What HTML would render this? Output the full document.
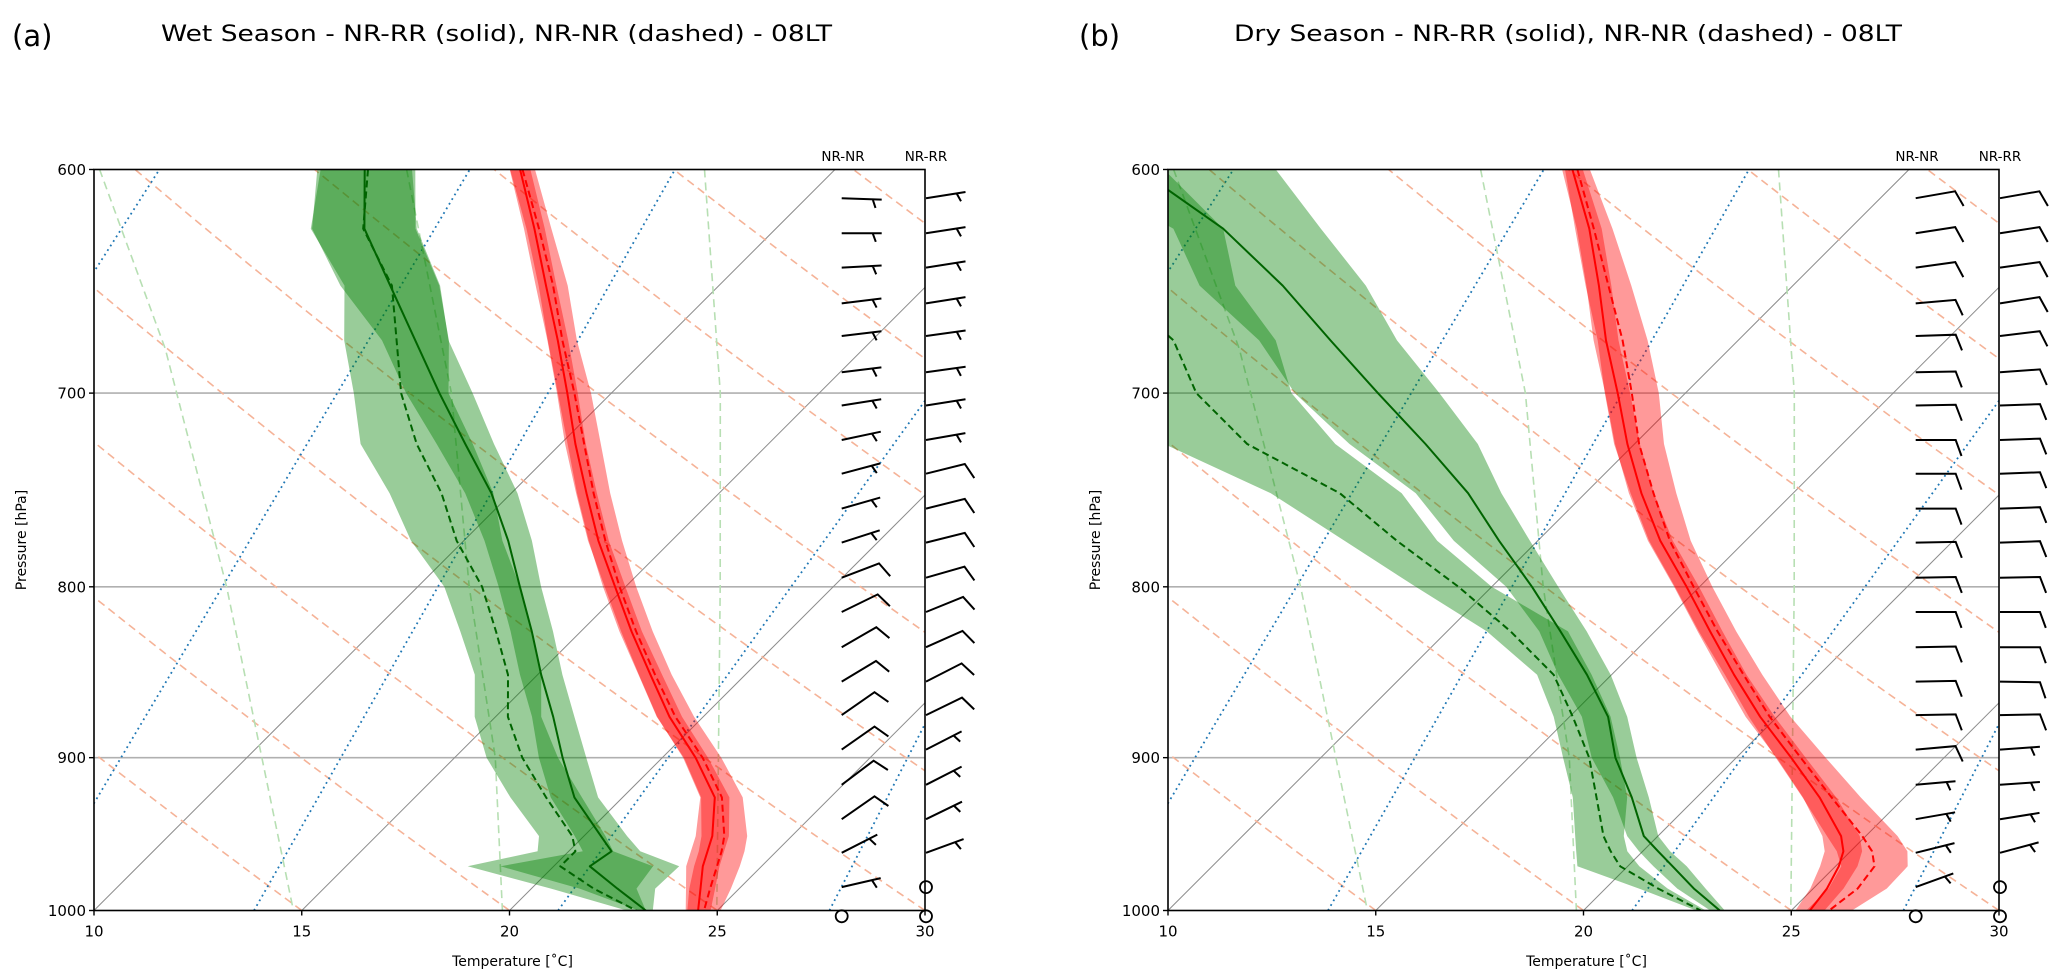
<!DOCTYPE html>
<html><head><meta charset="utf-8"><title>Skew-T Wet/Dry season</title>
<style>
html,body{margin:0;padding:0;background:#fff;}
svg{display:block;font-family:"DejaVu Sans","Liberation Sans",sans-serif;}
</style></head>
<body>
<svg id="root" width="2067" height="980" viewBox="0 0 2067 980" xmlns="http://www.w3.org/2000/svg">
<defs>
<clipPath id="clipA"><rect x="94" y="169.5" width="831" height="741"/></clipPath>
<clipPath id="clipB"><rect x="1168" y="169.5" width="831" height="741"/></clipPath>
</defs>
<text x="12" y="46" font-size="29">(a)</text>
<text x="161" y="41" font-size="22" textLength="671" lengthAdjust="spacingAndGlyphs">Wet Season - NR-RR (solid), NR-NR (dashed) - 08LT</text>
<text x="1079" y="46" font-size="29">(b)</text>
<text x="1234" y="41" font-size="22" textLength="668" lengthAdjust="spacingAndGlyphs">Dry Season - NR-RR (solid), NR-NR (dashed) - 08LT</text>
<g id="panelA"></g>
<g id="panelB"></g>
</svg>
<script>
// ---- data ----
const levels = [600,625,650,675,700,725,750,775,800,825,850,875,900,925,950,960,970,985,1000];
// Panel (a) wet season
const aRedS = [2.42,4.19,5.84,7.44,8.94,10.36,11.81,13.24,14.75,16.22,17.72,19.19,20.80,22.22,23.09,23.34,23.59,24.07,24.54];
const aRedD = [2.48,4.30,6.01,7.55,9.11,10.57,11.98,13.41,14.86,16.33,17.83,19.33,20.97,22.39,23.38,23.68,23.93,24.30,24.68];
const aRedSsp = [0.25,0.25,0.25,0.25,0.25,0.25,0.25,0.25,0.25,0.25,0.28,0.3,0.3,0.35,0.4,0.4,0.4,0.35,0.3];
const aRedDsp = [0.3,0.3,0.35,0.35,0.4,0.4,0.4,0.4,0.4,0.4,0.4,0.45,0.45,0.5,0.55,0.55,0.55,0.5,0.4];
const aGrnS = [-1.32,0.10,2.09,4.01,5.86,7.71,9.52,11.07,12.46,13.82,15.09,16.39,17.60,18.84,20.41,21.03,20.87,22.07,23.28];
const aGrnD = [-1.24,0.07,2.13,3.56,4.94,6.54,8.32,9.83,11.55,12.96,14.29,15.30,16.63,18.16,19.72,20.16,20.16,21.50,23.05];
const aGrnSsp = [1.14,1.26,1.2,0.8,0.8,0.69,0.63,0.57,0.51,0.51,0.51,0.51,0.57,0.57,0.63,0.69,2.15,0.91,0.17];
const aGrnDsp = [1.14,1.26,1.14,1.26,1.14,1.35,1.25,1.1,0.91,0.86,0.8,0.8,0.86,0.86,0.8,0.91,2.23,1.03,0.23];
// Panel (b) dry season
const bRedS = [1.90,3.73,5.33,6.82,8.37,9.83,11.35,12.95,14.69,16.33,17.95,19.59,21.32,22.96,24.41,24.83,25.08,25.33,25.45];
const bRedD = [2.02,3.84,5.56,7.22,8.71,10.11,11.64,13.18,14.86,16.51,18.18,19.82,21.55,23.25,24.92,25.52,25.94,26.07,25.91];
const bRedSsp = [0.25,0.3,0.3,0.3,0.3,0.3,0.3,0.3,0.3,0.3,0.3,0.35,0.35,0.4,0.45,0.45,0.45,0.4,0.35];
const bRedDsp = [0.3,0.45,0.55,0.6,0.65,0.6,0.55,0.5,0.45,0.45,0.45,0.5,0.6,0.7,0.85,0.85,0.8,0.7,0.55];
const bGrnS = [-8.53,-5.08,-2.28,0.19,2.60,4.97,7.18,9.07,10.97,12.73,14.41,15.93,17.09,18.44,19.66,20.37,21.08,22.13,23.28];
const bGrnD = [-10.79,-8.56,-6.39,-3.59,-1.77,0.68,4.09,6.61,9.20,11.53,13.61,15.08,16.46,17.59,18.69,19.23,19.82,21.27,22.82];
const bGrnSlo = [-10.22,-6.28,-4.28,-1.53,0.60,3.14,5.92,7.98,10.35,12.22,13.72,15.30,16.52,17.99,19.26,19.91,20.62,21.73,23.05];
const bGrnShi = [-5.24,-2.73,-0.28,1.79,4.08,6.23,7.98,9.81,11.60,13.36,14.98,16.39,17.60,18.85,20.01,20.66,21.42,22.41,23.40];
const bGrnDlo = [-12.50,-10.51,-8.57,-6.68,-3.69,-1.32,2.43,5.35,8.17,10.96,13.21,14.62,15.83,17.02,18.01,18.40,18.79,20.81,22.71];
const bGrnDhi = [-7.93,-5.08,-3.42,-1.13,0.52,2.80,5.58,7.58,10.00,12.91,14.52,15.99,17.20,18.33,19.18,19.63,20.28,21.50,22.94];
// wind barbs (direction wind comes from, deg; speed kt; 0 = calm)
const barbP = [612,627,642,658,673,690,706,723,740,758,776,795,814,834,854,874,895,917,939,961,984];
const aNNdir = [92,90,87,83,83,83,81,78,75,74,72,69,64,60,59,55,55,53,55,63,77];
const aNNspd = [5,5,5,5,5,5,5,5,5,5,5,10,10,10,10,10,10,10,10,5,5];
const aNRdir = [81,81,81,81,82,82,81,80,76,76,76,74,68,66,63,64,63,63,64,70,0];
const aNRspd = [5,5,5,5,5,5,5,5,10,10,10,10,10,10,10,10,5,5,5,5,0];
const bNNdir = [80,81,82,85,88,89,89,90,90,90,89,89,90,89,89,89,85,85,80,76,70];
const bNNspd = [10,10,10,10,10,10,10,10,10,10,10,10,10,10,10,10,10,5,5,5,5];
const bNRdir = [80,81,82,81,83,86,88,88,88,88,88,89,90,90,91,89,86,86,81,75,0];
const bNRspd = [10,10,10,10,10,10,10,10,10,10,10,10,10,10,10,10,5,5,5,5,0];
const surfCalmP = 1004;
// background reference lines
const isoT = [10,15,20,25,30,35,40,45,50];
const dryT0 = [-40,-35,-30,-25,-20,-15,-10,-5,0,5,10,15,20,25,30,35,40,45,50,55,60,65,70,75,80,85,90,95,100];
const moistT1000 = [0.17,8.47,13.85,21.17,27.7];
const moistT600 = [-6.26,1.21,6.15,16.17,19.0];
const mixP1 = [600,679,800,1000], mixT1 = [-7.7,-1.8,5.4,14.8];
const mixP2 = [600,700,800,900,1000], mixT2 = [-0.31,6.15,11.24,15.98,19.83];
const mixP3 = [600,700,800,900,1000], mixT3 = [6.86,12.62,17.28,21.35,24.99];
const pTicks = [600,700,800,900,1000];
const tTicks = [10,15,20,25,30];

// ---- axes ----
const W = 831, TOP = 169.5, BOT = 910.5, K = 41.55, LN = 1450.6;
const NS = 'http://www.w3.org/2000/svg';
function yP(p){ return BOT - LN*Math.log(1000/p); }
function xT(L0,T,p){ return L0 + (T-10)*K + (BOT - yP(p)); }
function mk(parent, tag, attrs){
  const el = document.createElementNS(NS, tag);
  for (const k in attrs) el.setAttribute(k, attrs[k]);
  parent.appendChild(el);
  return el;
}
function pathFrom(L0, ps, ts){
  let d='';
  for(let i=0;i<ps.length;i++){ d += (i?'L':'M') + xT(L0,ts[i],ps[i]).toFixed(1)+' '+yP(ps[i]).toFixed(1)+' '; }
  return d;
}
function bandPath(L0, lo, hi){
  let d='';
  for(let i=0;i<levels.length;i++) d += (i?'L':'M') + xT(L0,lo[i],levels[i]).toFixed(1)+' '+yP(levels[i]).toFixed(1)+' ';
  for(let i=levels.length-1;i>=0;i--) d += 'L' + xT(L0,hi[i],levels[i]).toFixed(1)+' '+yP(levels[i]).toFixed(1)+' ';
  return d+'Z';
}
function minus(c,s){ return c.map((v,i)=>v-s[i]); }
function plus(c,s){ return c.map((v,i)=>v+s[i]); }

function drawBarb(g, bx, p, dir, spd){
  const y = yP(p);
  if(spd===0){
    const c = mk(g,'circle',{cx:bx,cy:y,r:6,fill:'none',stroke:'#000','stroke-width':1.8});
    
    
    return;
  }
  const th = (90-dir)*Math.PI/180;
  const ux = Math.cos(th), uy = -Math.sin(th);
  const ex = bx+40*ux, ey = y+40*uy;
  const ta = Math.atan2(uy,ux) + 70*Math.PI/180;
  let d = 'M'+bx+' '+y.toFixed(1)+' L'+ex.toFixed(1)+' '+ey.toFixed(1);
  if(spd>=10){
    d += ' L'+(ex+17*Math.cos(ta)).toFixed(1)+' '+(ey+17*Math.sin(ta)).toFixed(1);
  } else {
    const sx = bx+31*ux, sy = y+31*uy;
    d += ' M'+sx.toFixed(1)+' '+sy.toFixed(1)+' L'+(sx+9*Math.cos(ta)).toFixed(1)+' '+(sy+9*Math.sin(ta)).toFixed(1);
  }
  const b = mk(g,'path',{d:d,fill:'none',stroke:'#000','stroke-width':2,'stroke-linejoin':'miter'});
  
  
}

function drawPanel(gid, L0, clipId, D){
  const root = document.getElementById(gid);
  const clip = mk(root,'g',{'clip-path':'url(#'+clipId+')'});
  
  
  for(const p of [700,800,900]){
    const l = mk(clip,'line',{x1:L0,x2:L0+W,y1:yP(p),y2:yP(p),stroke:'#b0b0b0','stroke-width':1.6});
    
    
  }
  for(const t of isoT){
    const l = mk(clip,'path',{d:pathFrom(L0,[1000,600],[t,t]),stroke:'#8c8c8c','stroke-width':1,fill:'none'});
    
    
  }
  for(const t0 of dryT0){
    const ps=[], ts=[];
    for(let p=1000;p>=600;p-=20){ ps.push(p); ts.push((t0+273.15)*Math.pow(p/1000,0.2857)-273.15); }
    const l = mk(clip,'path',{d:pathFrom(L0,ps,ts),stroke:'#f5b398','stroke-width':1.6,fill:'none','stroke-dasharray':'8,5'});
    
    
  }
  for(let i=0;i<moistT1000.length;i++){
    const l = mk(clip,'path',{d:pathFrom(L0,[1000,600],[moistT1000[i],moistT600[i]]),stroke:'#1f77b4','stroke-width':1.8,fill:'none','stroke-dasharray':'1.8,3.6'});
    
    
  }
  for(const [ps,ts] of [[mixP1,mixT1],[mixP2,mixT2],[mixP3,mixT3]]){
    const l = mk(clip,'path',{d:pathFrom(L0,ps,ts),stroke:'#b7dfb3','stroke-width':1.6,fill:'none','stroke-dasharray':'8,5'});
    
    
  }
  const bands = [
    ['green-band-nrrr', D.gSlo, D.gShi, 'rgba(0,128,0,0.4)'],
    ['green-band-nrnr', D.gDlo, D.gDhi, 'rgba(0,128,0,0.4)'],
    ['red-band-nrrr', D.rSlo, D.rShi, 'rgba(255,0,0,0.4)'],
    ['red-band-nrnr', D.rDlo, D.rDhi, 'rgba(255,0,0,0.4)']
  ];
  for(const [nm,lo,hi,col] of bands){
    const b = mk(clip,'path',{d:bandPath(L0,lo,hi),fill:col,stroke:'none'});
    
    
  }
  const lines = [
    ['dewpoint-nrrr-solid', D.gS, '#006400', null],
    ['dewpoint-nrnr-dashed', D.gD, '#006400', '7,4'],
    ['temperature-nrrr-solid', D.rS, '#ff0000', null],
    ['temperature-nrnr-dashed', D.rD, '#ff0000', '7,4']
  ];
  for(const [nm,ts,col,dash] of lines){
    const at = {d:pathFrom(L0,levels,ts),stroke:col,'stroke-width':2,fill:'none','stroke-linejoin':'round'};
    if(dash) at['stroke-dasharray']=dash;
    const l = mk(clip,'path',at);
    
    
  }
  const fr = mk(root,'rect',{x:L0,y:TOP,width:W,height:BOT-TOP,fill:'none',stroke:'#000','stroke-width':1.6});
  
  
  for(const p of pTicks){
    const t = mk(root,'line',{x1:L0-5,x2:L0,y1:yP(p),y2:yP(p),stroke:'#000','stroke-width':1.4});
    
    
    const lb = mk(root,'text',{x:L0-8,y:yP(p)+5.5,'font-size':15,'text-anchor':'end'});
    lb.textContent = p;
    
    
  }
  for(const t0 of tTicks){
    const x = L0+(t0-10)*K;
    const t = mk(root,'line',{x1:x,x2:x,y1:BOT,y2:BOT+5,stroke:'#000','stroke-width':1.4});
    
    
    const lb = mk(root,'text',{x:x,y:BOT+26,'font-size':15,'text-anchor':'middle'});
    lb.textContent = t0;
    
    
  }
  const xl = mk(root,'text',{x:L0+W/2+3,y:966,'font-size':14,'text-anchor':'middle'});
  xl.textContent = 'Temperature [\u02daC]';
  
  
  const yl = mk(root,'text',{x:0,y:0,'font-size':14,'text-anchor':'middle',transform:'translate('+(L0-68)+','+((TOP+BOT)/2)+') rotate(-90)'});
  yl.textContent = 'Pressure [hPa]';
  
  
  const n1 = mk(root,'text',{x:L0+W-82,y:161,'font-size':13.5,'text-anchor':'middle'});
  n1.textContent = 'NR-NR';
  
  
  const n2 = mk(root,'text',{x:L0+W+1,y:161,'font-size':13.5,'text-anchor':'middle'});
  n2.textContent = 'NR-RR';
  
  
  const gb = mk(root,'g',{});
  
  
  const x1 = L0+W-83.3, x2 = L0+W+1;
  for(let i=0;i<barbP.length;i++){
    drawBarb(gb, x1, barbP[i], D.nnDir[i], D.nnSpd[i]);
    drawBarb(gb, x2, barbP[i], D.nrDir[i], D.nrSpd[i]);
  }
  drawBarb(gb, x1, surfCalmP, 0, 0);
  drawBarb(gb, x2, surfCalmP, 0, 0);
}

drawPanel('panelA', 94, 'clipA', {
  rS:aRedS, rD:aRedD, gS:aGrnS, gD:aGrnD,
  rSlo:minus(aRedS,aRedSsp), rShi:plus(aRedS,aRedSsp),
  rDlo:minus(aRedD,aRedDsp), rDhi:plus(aRedD,aRedDsp),
  gSlo:minus(aGrnS,aGrnSsp), gShi:plus(aGrnS,aGrnSsp),
  gDlo:minus(aGrnD,aGrnDsp), gDhi:plus(aGrnD,aGrnDsp),
  nnDir:aNNdir, nnSpd:aNNspd, nrDir:aNRdir, nrSpd:aNRspd
});
drawPanel('panelB', 1168, 'clipB', {
  rS:bRedS, rD:bRedD, gS:bGrnS, gD:bGrnD,
  rSlo:minus(bRedS,bRedSsp), rShi:plus(bRedS,bRedSsp),
  rDlo:minus(bRedD,bRedDsp), rDhi:plus(bRedD,bRedDsp),
  gSlo:bGrnSlo, gShi:bGrnShi, gDlo:bGrnDlo, gDhi:bGrnDhi,
  nnDir:bNNdir, nnSpd:bNNspd, nrDir:bNRdir, nrSpd:bNRspd
});
</script>
</body></html>
